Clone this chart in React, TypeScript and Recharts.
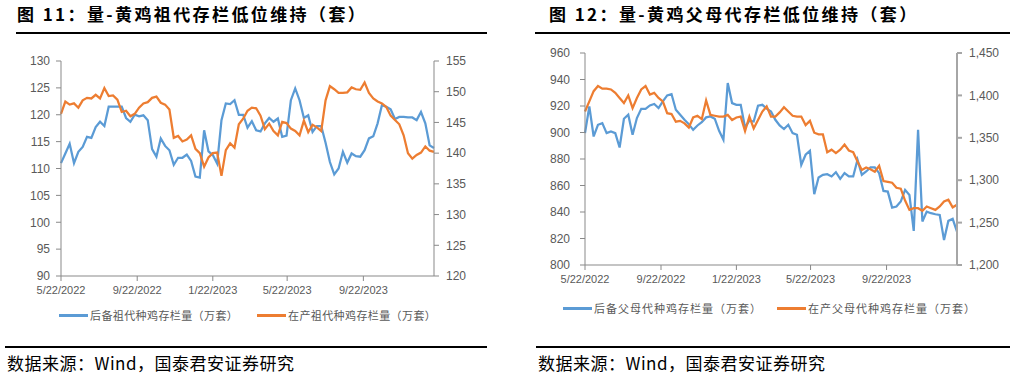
import React from 'react';
import { Line, LineChart, XAxis, YAxis } from 'recharts';

// weekly series, first week = 5/22/2022
const START = '5/22/2022';
const tickLabels = ['5/22/2022', '9/22/2022', '1/22/2023', '5/22/2023', '9/22/2023'];

// 图11 后备祖代 (left axis) / 在产祖代 (right axis), 万套
const reserveGP = [
  111.0, 112.8, 114.6, 111.0, 113.1, 114.0, 115.9, 115.7, 117.7, 118.7,
  117.9, 121.5, 121.5, 121.5, 121.5, 119.4, 118.7, 120.0, 119.7, 119.9,
  119.0, 113.6, 112.2, 115.6, 114.2, 113.4, 110.7, 112.0, 112.0, 112.6,
  111.4, 108.5, 108.3, 117.1, 113.2, 112.5, 110.9, 119.0, 122.1, 122.0,
  122.7, 120.0, 120.0, 117.6, 118.8, 117.1, 116.9, 118.4, 119.4, 118.7,
  119.3, 115.9, 116.1, 122.7, 124.9, 122.7, 119.4, 119.9, 116.8, 117.9,
  117.9, 114.8, 111.2, 108.9, 110.0, 113.1, 111.1, 112.8, 112.3, 112.2,
  113.4, 115.6, 116.0, 118.4, 121.8, 121.5, 121.0, 119.2, 119.6, 119.6,
  119.5, 119.5, 119.0, 120.5, 118.4, 114.3, 113.8
];
const layingGP = [
  146.4, 148.4, 147.9, 148.1, 147.4, 148.6, 149.0, 148.9, 149.5, 148.9,
  150.6, 149.3, 149.4, 148.7, 146.7, 146.9, 146.0, 146.4, 147.4, 148.1,
  148.3, 149.0, 149.2, 148.2, 147.9, 147.1, 142.5, 142.8, 141.9, 142.2,
  142.9, 140.7, 140.0, 137.8, 139.3, 140.0, 140.1, 136.3, 140.5, 141.6,
  140.9, 144.7, 145.6, 146.9, 147.4, 147.3, 146.1, 143.9, 144.8, 143.6,
  142.9, 145.1, 144.9, 144.0, 143.6, 142.9, 145.3, 143.4, 144.6, 144.2,
  143.6, 148.6, 150.9, 150.4, 149.8, 149.8, 149.9, 150.7, 150.4, 150.3,
  151.5, 149.8, 148.9, 148.4, 148.1, 147.5, 146.1, 145.4, 144.7, 142.9,
  140.0, 139.1, 139.7, 140.1, 141.1, 140.4, 140.2
];

// 图12 后备父母代 (left axis) / 在产父母代 (right axis), 万套
const reservePS = [
  899.5, 919.7, 897.0, 905.8, 907.1, 899.5, 900.8, 899.5, 888.7, 910.4,
  913.4, 898.3, 910.9, 917.9, 917.9, 920.4, 921.5, 918.4, 923.5, 928.0,
  929.0, 917.2, 913.4, 909.6, 906.3, 902.0, 905.3, 907.8, 911.4, 912.1,
  910.4, 901.3, 894.5, 937.3, 922.2, 920.9, 920.9, 903.8, 908.9, 908.3,
  920.2, 920.9, 918.0, 915.9, 909.6, 905.3, 902.6, 905.8, 899.5, 898.3,
  875.6, 883.2, 886.2, 853.4, 866.0, 868.0, 868.5, 866.8, 870.0, 865.0,
  869.3, 866.8, 866.8, 879.4, 868.0, 870.6, 873.6, 873.6, 869.3, 855.9,
  855.4, 843.3, 844.1, 847.9, 856.7, 852.9, 825.7, 902.0, 832.8, 840.3,
  839.1, 838.3, 837.8, 818.9, 833.3, 834.8, 825.2
];
const layingPS = [
  1381, 1393, 1405, 1411, 1408, 1408, 1407, 1403, 1397, 1391,
  1400, 1385, 1397, 1407, 1411, 1401, 1403, 1397, 1393, 1379,
  1378, 1369, 1370, 1367, 1362, 1374, 1376, 1372, 1394, 1377,
  1376, 1375, 1375, 1377, 1371, 1374, 1375, 1358, 1375, 1361,
  1371, 1381, 1387, 1375, 1375, 1380, 1386, 1381, 1376, 1375,
  1375, 1365, 1370, 1356, 1354, 1354, 1333, 1336, 1332, 1336,
  1342, 1335, 1333, 1322, 1312, 1315, 1313, 1310, 1317, 1299,
  1298, 1297, 1291, 1290, 1276, 1265, 1267, 1267, 1264, 1269,
  1267, 1265, 1269, 1275, 1277, 1268, 1271
];

const gpLeftTicks = [90, 95, 100, 105, 110, 115, 120, 125, 130];
const gpRightTicks = [120, 125, 130, 135, 140, 145, 150, 155];
const psLeftTicks = [800, 820, 840, 860, 880, 900, 920, 940, 960];
const psRightTicks = [1200, 1250, 1300, 1350, 1400, 1450];

const BLUE = '#5B9BD5';
const ORANGE = '#ED7D31';
const AXIS = '#898989';
const TEXT = '#595959';
const CJK = '"Noto Sans CJK SC", "Noto Sans", sans-serif';
const NUM = '"Liberation Sans", Arial, sans-serif';

function toDay(label: string) {
  const [m, d, y] = label.split('/').map(Number);
  const [m0, d0, y0] = START.split('/').map(Number);
  return (Date.UTC(y, m - 1, d) - Date.UTC(y0, m0 - 1, d0)) / 86400000;
}

const tickDays = tickLabels.map(toDay);
const lastDay = (reserveGP.length - 1) * 7;
const fmtDate = (v: number) => tickLabels[tickDays.indexOf(v)] ?? '';

const gpData = reserveGP.map((v, i) => ({ day: i * 7, reserve: v, laying: layingGP[i] }));
const psData = reservePS.map((v, i) => ({ day: i * 7, reserve: v, laying: layingPS[i] }));

const tickStyle = { fontSize: 12, fill: TEXT, fontFamily: NUM };
const xTickStyle = { fontSize: 11, fill: TEXT, fontFamily: NUM };

function Title({ x, text }: { x: number; text: string }) {
  return (
    <div
      style={{
        position: 'absolute', left: x, top: 2, fontFamily: CJK, fontWeight: 700,
        fontSize: 17, letterSpacing: 2.4, color: '#000', whiteSpace: 'nowrap', lineHeight: '24px'
      }}
    >
      {text}
    </div>
  );
}

function Rule({ x1, x2, y }: { x1: number; x2: number; y: number }) {
  return <div style={{ position: 'absolute', left: x1, top: y - 1, width: x2 - x1, height: 2, background: '#000' }} />;
}

function LegendItem({ x, y, color, text, spacing }: { x: number; y: number; color: string; text: string; spacing: number }) {
  return (
    <div style={{ position: 'absolute', left: x, top: y - 8, height: 16, display: 'flex', alignItems: 'center' }}>
      <div style={{ width: 29, height: 3, background: color, marginRight: 2 }} />
      <span style={{ fontFamily: CJK, fontSize: 11, color: TEXT, letterSpacing: spacing, whiteSpace: 'nowrap' }}>{text}</span>
    </div>
  );
}

function Source({ x }: { x: number }) {
  return (
    <div
      style={{
        position: 'absolute', left: x, top: 352, fontFamily: CJK, fontSize: 17,
        letterSpacing: 0.5, color: '#000', whiteSpace: 'nowrap', lineHeight: '22px'
      }}
    >
      数据来源：Wind，国泰君安证券研究
    </div>
  );
}

export default function App() {
  return (
    <div style={{ position: 'absolute', left: 0, top: 0, width: 1015, height: 377, background: '#fff', overflow: 'hidden' }}>
      <Title x={17} text="图 11：量-黄鸡祖代存栏低位维持（套）" />
      <Rule x1={16} x2={487} y={33} />
      <Title x={549} text="图 12：量-黄鸡父母代存栏低位维持（套）" />
      <Rule x1={535} x2={1010} y={33} />

      <div style={{ position: 'absolute', left: 0, top: 0 }}>
        <LineChart width={490} height={310} data={gpData} margin={{ top: 61, right: 6, bottom: 4, left: 0 }}>
          <XAxis
            dataKey="day" type="number" domain={[0, lastDay]} ticks={tickDays} interval={0}
            tickFormatter={fmtDate} tick={xTickStyle} stroke={AXIS} tickSize={5} tickMargin={5} height={30}
          />
          <YAxis
            yAxisId="left" domain={[90, 130]} ticks={gpLeftTicks} interval={0} width={61}
            tick={tickStyle} stroke={AXIS} tickSize={5} tickMargin={6}
          />
          <YAxis
            yAxisId="right" orientation="right" domain={[120, 155]} ticks={gpRightTicks} interval={0} width={50}
            tick={tickStyle} stroke={AXIS} tickSize={5} tickMargin={7}
          />
          <Line yAxisId="left" dataKey="reserve" stroke={BLUE} strokeWidth={2.25} dot={false} isAnimationActive={false} />
          <Line yAxisId="right" dataKey="laying" stroke={ORANGE} strokeWidth={2.25} dot={false} isAnimationActive={false} />
        </LineChart>
      </div>

      <div style={{ position: 'absolute', left: 520, top: 0 }}>
        <LineChart width={495} height={300} data={psData} margin={{ top: 53, right: 8, bottom: 5, left: 0 }}>
          <XAxis
            dataKey="day" type="number" domain={[0, lastDay]} ticks={tickDays} interval={0}
            tickFormatter={fmtDate} tick={xTickStyle} stroke={AXIS} tickSize={5} tickMargin={5} height={30}
          />
          <YAxis
            yAxisId="left" domain={[800, 960]} ticks={psLeftTicks} interval={0} width={65}
            tick={tickStyle} stroke={AXIS} tickSize={5} tickMargin={10}
          />
          <YAxis
            yAxisId="right" orientation="right" domain={[1200, 1450]} ticks={psRightTicks} interval={0} width={50}
            tick={tickStyle} stroke="#a6a6a6" strokeWidth={2} tickSize={5} tickMargin={7}
            tickFormatter={(v: number) => v.toLocaleString('en-US')}
          />
          <Line yAxisId="left" dataKey="reserve" stroke={BLUE} strokeWidth={2.25} dot={false} isAnimationActive={false} />
          <Line yAxisId="right" dataKey="laying" stroke={ORANGE} strokeWidth={2.25} dot={false} isAnimationActive={false} />
        </LineChart>
      </div>

      <LegendItem x={59} y={315} color={BLUE} text="后备祖代种鸡存栏量（万套）" spacing={0.4} />
      <LegendItem x={257} y={315} color={ORANGE} text="在产祖代种鸡存栏量（万套）" spacing={0.4} />
      <LegendItem x={563} y={308} color={BLUE} text="后备父母代种鸡存栏量（万套）" spacing={1} />
      <LegendItem x={777} y={308} color={ORANGE} text="在产父母代种鸡存栏量（万套）" spacing={1} />

      <Rule x1={5} x2={487} y={347} />
      <Rule x1={536} x2={1010} y={347} />
      <Source x={7} />
      <Source x={538} />
    </div>
  );
}
